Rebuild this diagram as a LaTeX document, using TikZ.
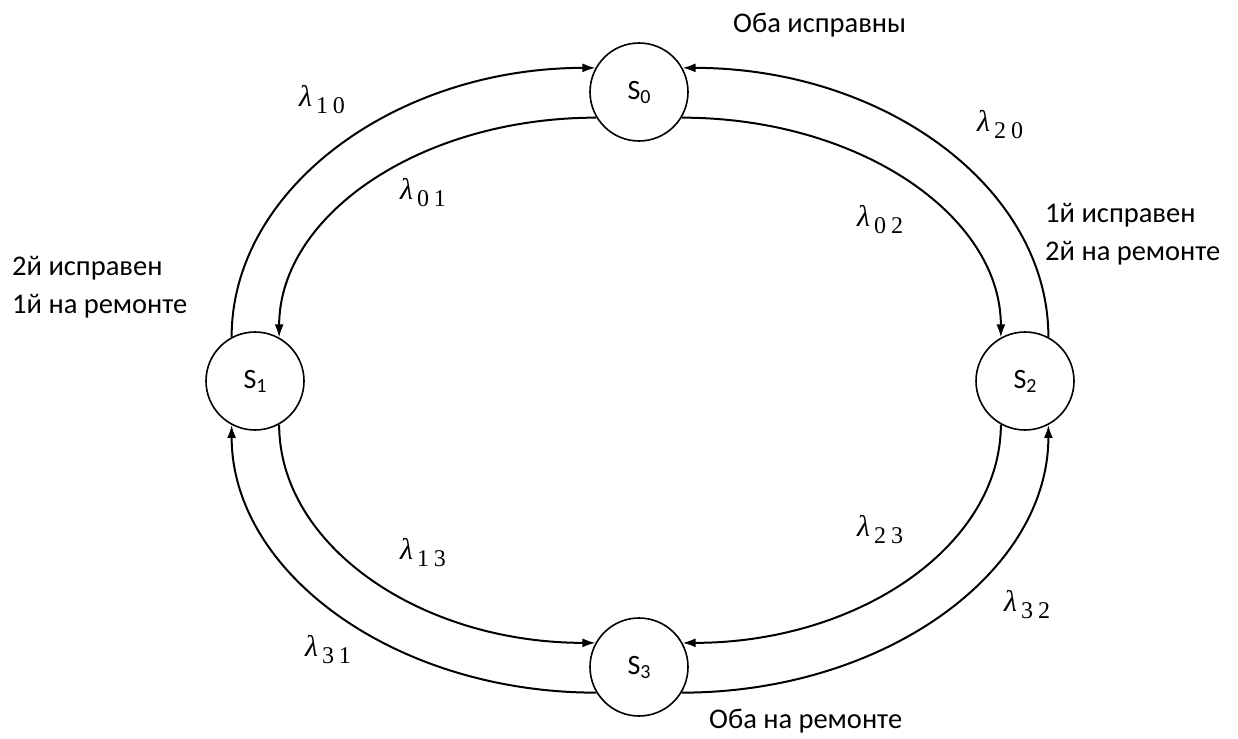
\documentclass[tikz,border=0pt]{standalone}
\usepackage{fontspec}
\setmainfont{Carlito}
\newfontfamily\ratefont{Liberation Serif}
\usetikzlibrary{arrows.meta}
% rate symbol: italic lambda with a spaced two-digit index
\newcommand{\lam}[2]{{\ratefont\fontsize{30}{34}\selectfont\itshape λ}%
  \raisebox{-7pt}{\ratefont\fontsize{24}{27}\selectfont\,#1\hspace{5pt}#2}}
% state label with a lowered index
\newcommand{\stname}[1]{S\raisebox{-4pt}{\fontsize{20}{23}\selectfont #1}}
\begin{document}
\begin{tikzpicture}[x=1pt,y=-1pt,
  state/.style={draw,circle,line width=1.6pt,minimum size=98pt,inner sep=0pt,
    font=\fontsize{28}{33}\selectfont},
  trans/.style={line width=2pt},
  arr/.style={trans,-{Latex[length=13pt,width=9pt]}},
  rate/.style={inner sep=0pt},
  caption/.style={font=\fontsize{28.5}{34}\selectfont,inner sep=0pt,anchor=base west}]
\useasboundingbox (0,0) rectangle (1238,738);

% states
\node[state] (S0) at (639,92)  {\stname{0}};
\node[state] (S1) at (255,381) {\stname{1}};
\node[state] (S2) at (1025,381) {\stname{2}};
\node[state] (S3) at (639,667) {\stname{3}};

% transitions between S0 and S1
\draw[arr] (S1.118) .. controls +(0,-149) and +(-199,0) .. (S0.151);
\draw[arr] (S0.211) .. controls +(-176,0) and +(0,-122) .. (S1.61);
% transitions between S0 and S2
\draw[arr] (S2.62) .. controls +(0,-149) and +(202,0) .. (S0.29);
\draw[arr] (S0.329) .. controls +(177,0) and +(0,-122) .. (S2.119);
% transitions between S1 and S3
\draw[arr] (S1.299) .. controls +(0,121) and +(-175,0) .. (S3.151);
\draw[arr] (S3.211) .. controls +(-201,0) and +(0,148) .. (S1.242);
% transitions between S2 and S3
\draw[arr] (S2.241) .. controls +(0,121) and +(176,0) .. (S3.29);
\draw[arr] (S3.329) .. controls +(202,0) and +(0,148) .. (S2.298);

% rates
\node[rate] (l10) at (322,100) {\lam{1}{0}};
\node[rate] (l01) at (423,193) {\lam{0}{1}};
\node[rate] (l20) at (1000,125) {\lam{2}{0}};
\node[rate] (l02) at (880,220) {\lam{0}{2}};
\node[rate] (l13) at (423,553) {\lam{1}{3}};
\node[rate] (l31) at (328,650) {\lam{3}{1}};
\node[rate] (l23) at (880,530) {\lam{2}{3}};
\node[rate] (l32) at (1027,605) {\lam{3}{2}};

% state descriptions
\node[caption] (c0) at (733,33) {Оба исправны};
\node[caption] (c1a) at (12,275) {2й исправен};
\node[caption] (c1b) at (12,313) {1й на ремонте};
\node[caption] (c2a) at (1045,222) {1й исправен};
\node[caption] (c2b) at (1045,260) {2й на ремонте};
\node[caption] (c3) at (709,728) {Оба на ремонте};
\end{tikzpicture}
\end{document}
